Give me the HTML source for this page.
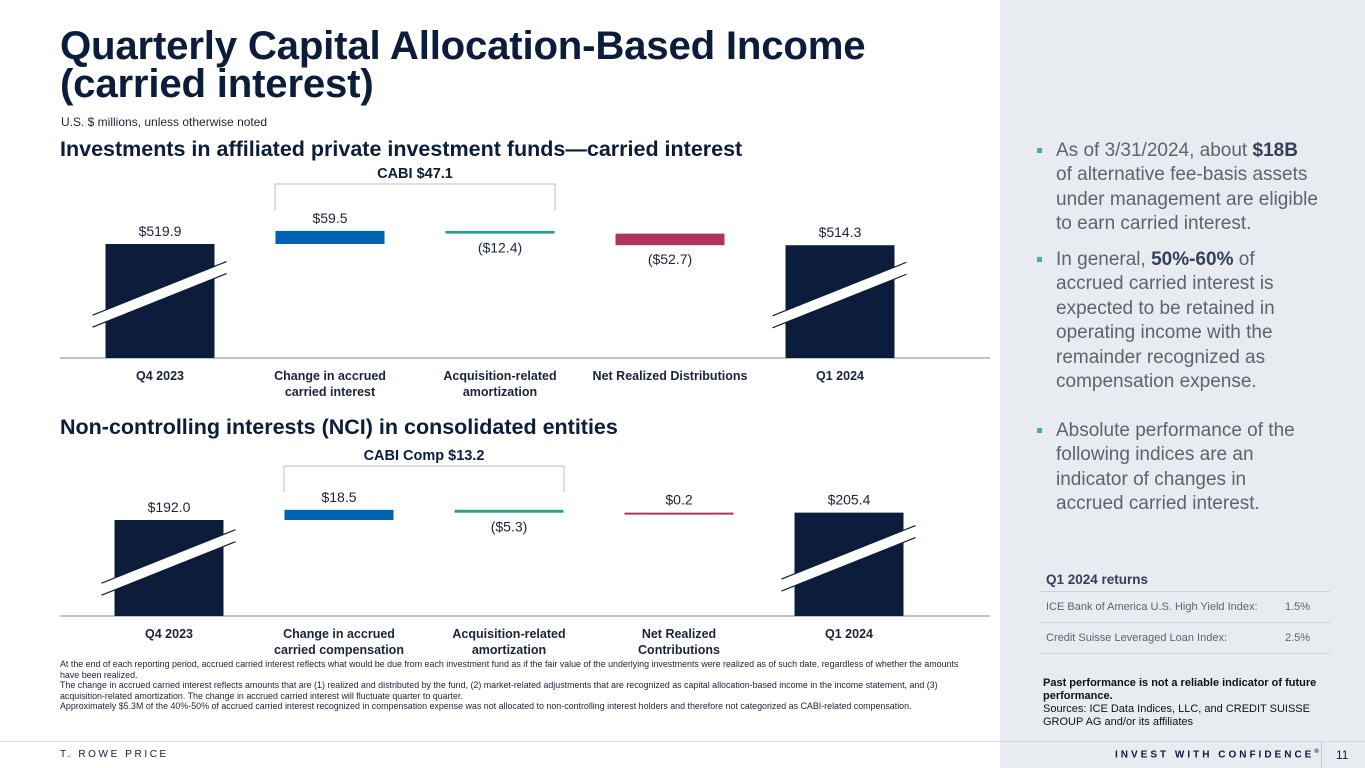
<!DOCTYPE html>
<html><head><meta charset="utf-8">
<style>
*{margin:0;padding:0;box-sizing:border-box}
body{width:1365px;height:768px;position:relative;overflow:hidden;background:#fff;font-family:"Liberation Sans",Arial,sans-serif;color:#0b1d3a}
.abs{position:absolute}
#right{left:1000px;top:0;width:365px;height:768px;background:#e8ebef}
h1{position:absolute;left:60px;top:27px;font-size:40.2px;line-height:38px;font-weight:bold;color:#0b1d3a;letter-spacing:-0.2px}
.bul{position:absolute;left:1056px;width:300px;font-size:19px;line-height:24.4px;color:#5b6472;white-space:nowrap}
.bul b{color:#33405a}
.bul:before{content:"";position:absolute;left:-19px;top:9px;width:5px;height:5px;background:#3fb1ad}
.note{position:absolute;left:60px;top:659px;width:900px;font-size:8.9px;line-height:10.6px;color:#1a2438}
</style></head><body>
<div id="right" class="abs"></div>
<h1>Quarterly Capital Allocation-Based Income<br>(carried interest)</h1>
<div class="abs" style="left:61px;top:115px;font-size:12px;color:#1a2438">U.S. $ millions, unless otherwise noted</div>
<div class="abs" style="left:60px;top:137px;font-size:21.5px;font-weight:bold">Investments in affiliated private investment funds—carried interest</div>
<div class="abs" style="left:60px;top:415px;font-size:21.5px;font-weight:bold">Non-controlling interests (NCI) in consolidated entities</div>

<svg class="abs" style="left:0;top:0" width="1000" height="660" id="charts"></svg>

<div class="note">At the end of each reporting period, accrued carried interest reflects what would be due from each investment fund as if the fair value of the underlying investments were realized as of such date, regardless of whether the amounts have been realized.<br>The change in accrued carried interest reflects amounts that are (1) realized and distributed by the fund, (2) market-related adjustments that are recognized as capital allocation-based income in the income statement, and (3) acquisition-related amortization. The change in accrued carried interest will fluctuate quarter to quarter.<br>Approximately $5.3M of the 40%-50% of accrued carried interest recognized in compensation expense was not allocated to non-controlling interest holders and therefore not categorized as CABI-related compensation.</div>

<div class="bul" style="top:139px">As of 3/31/2024, about <b>$18B</b><br>of alternative fee-basis assets<br>under management are eligible<br>to earn carried interest.</div>
<div class="bul" style="top:248px">In general, <b>50%-60%</b> of<br>accrued carried interest is<br>expected to be retained in<br>operating income with the<br>remainder recognized as<br>compensation expense.</div>
<div class="bul" style="top:419px">Absolute performance of the<br>following indices are an<br>indicator of changes in<br>accrued carried interest.</div>

<div class="abs" style="left:1046px;top:572px;font-size:13.5px;font-weight:bold;color:#33405a">Q1 2024 returns</div>
<div class="abs" style="left:1040px;top:591px;width:290px;border-top:1px solid #cfd3d9"></div>
<div class="abs" style="left:1046px;top:601px;font-size:11px;color:#5b6472">ICE Bank of America U.S. High Yield Index:</div>
<div class="abs" style="left:1285px;top:601px;font-size:11px;color:#5b6472">1.5%</div>
<div class="abs" style="left:1040px;top:622px;width:290px;border-top:1px solid #cfd3d9"></div>
<div class="abs" style="left:1046px;top:632px;font-size:11px;color:#5b6472">Credit Suisse Leveraged Loan Index:</div>
<div class="abs" style="left:1285px;top:632px;font-size:11px;color:#5b6472">2.5%</div>
<div class="abs" style="left:1040px;top:653px;width:290px;border-top:1px solid #cfd3d9"></div>
<div class="abs" style="left:1043px;top:677px;width:300px;font-size:11px;line-height:13px;color:#111"><b>Past performance is not a reliable indicator of future performance.</b><br>Sources: ICE Data Indices, LLC, and CREDIT SUISSE GROUP AG and/or its affiliates</div>

<div class="abs" style="left:0;top:741px;width:1365px;border-top:1px solid #d4d8de"></div>
<div class="abs" style="left:60px;top:749px;font-size:10px;letter-spacing:2.6px;color:#0b1d3a">T. ROWE PRICE</div>
<div class="abs" style="left:1115px;top:749px;font-size:10px;font-weight:bold;letter-spacing:3px;color:#0b1d3a;white-space:nowrap">INVEST WITH CONFIDENCE<sup style="font-size:6px">®</sup></div>
<div class="abs" style="left:1321px;top:742px;height:26px;border-left:1px solid #c9ced5"></div>
<div class="abs" style="left:1336px;top:748px;font-size:12px;color:#0b1d3a">11</div>

<script>
const cats1 = ["Q4 2023","Change in accrued|carried interest","Acquisition-related|amortization","Net Realized Distributions","Q1 2024"];
const vals1 = [519.9, 59.5, -12.4, -52.7, 514.3];
const labels1 = ["$519.9","$59.5","($12.4)","($52.7)","$514.3"];
const cats2 = ["Q4 2023","Change in accrued|carried compensation","Acquisition-related|amortization","Net Realized|Contributions","Q1 2024"];
const vals2 = [192.0, 18.5, -5.3, 0.2, 205.4];
const labels2 = ["$192.0","$18.5","($5.3)","$0.2","$205.4"];
const colors = ["#0b1d3a","#0062b0","#2e9e80","#b03462","#0b1d3a"];
const NS="http://www.w3.org/2000/svg";
const svg=document.getElementById('charts');
function el(t,a,txt){const e=document.createElementNS(NS,t);for(const k in a)e.setAttribute(k,a[k]);if(txt!==undefined)e.textContent=txt;svg.appendChild(e);return e;}

function draw(cfg){
  const {cats,vals,labels,x0,step,base,anchorY,k,bracket,key}=cfg;
  const y=v=>anchorY-(v-vals[0])*k;
  const bw=109;
  const axis=el('line',{x1:60,x2:990,y1:base,y2:base,stroke:'#9aa0a8','stroke-width':1.2});
  
  
  let run=vals[0];
  vals.forEach((v,i)=>{
    const cx=x0+i*step, left=cx-bw/2;
    let top,bot,lblY;
    if(i===0||i===vals.length-1){
      top=y(v); bot=base; lblY=top-8;
    } else {
      const a=y(run), b=y(run+v); run+=v;
      top=Math.min(a,b); bot=Math.max(a,b);
      if(bot-top<2){bot=top+2;}
      lblY = v>=0 ? top-8 : bot+19;
    }
    const r=el('rect',{x:left,y:top,width:bw,height:bot-top,fill:colors[i]});
    
    
    const t=el('text',{x:cx,y:lblY,'text-anchor':'middle','font-size':14,fill:'#1a2438'},labels[i]);
    
    
    cats[i].split('|').forEach((ln,j)=>{
      const c=el('text',{x:cx,y:base+22+j*16,'text-anchor':'middle','font-size':12.5,'font-weight':'bold',fill:'#1a2438'},ln);
      
      
    });
    if(i===0||i===vals.length-1){
      const my=top+(base-top)*0.44;
      const xl=left-13, xr=left+bw+12, s=0.4;
      const yl=my+(cx-xl)*s, yr=my-(xr-cx)*s;
      const p=el('polygon',{points:`${xl},${yl-6} ${xr},${yr-6} ${xr},${yr+6} ${xl},${yl+6}`,fill:'#fff'});
      
      
      el('line',{x1:xl,y1:yl-6,x2:xr,y2:yr-6,stroke:'#0b1d3a','stroke-width':1.2});
      el('line',{x1:xl,y1:yl+6,x2:xr,y2:yr+6,stroke:'#0b1d3a','stroke-width':1.2});
    }
  });
  const bx1=x0+step-step/2+30, bx2=x0+2*step+step/2-30;
  const br=el('polyline',{points:`${bx1},${bracket+26} ${bx1},${bracket} ${bx2},${bracket} ${bx2},${bracket+26}`,fill:'none',stroke:'#b8bcc2','stroke-width':1});
  
  
  const bt=el('text',{x:(bx1+bx2)/2,y:bracket-6,'text-anchor':'middle','font-size':14.5,'font-weight':'bold',fill:'#0b1d3a'},cfg.title);
  
  
}
draw({cats:cats1,vals:vals1,labels:labels1,x0:160,step:170,base:358,anchorY:244,k:0.22,bracket:184,key:'chart1',title:'CABI  $47.1'});
draw({cats:cats2,vals:vals2,labels:labels2,x0:169,step:170,base:616,anchorY:520,k:0.55,bracket:466,key:'chart2',title:'CABI Comp $13.2'});
</script>
</body></html>
